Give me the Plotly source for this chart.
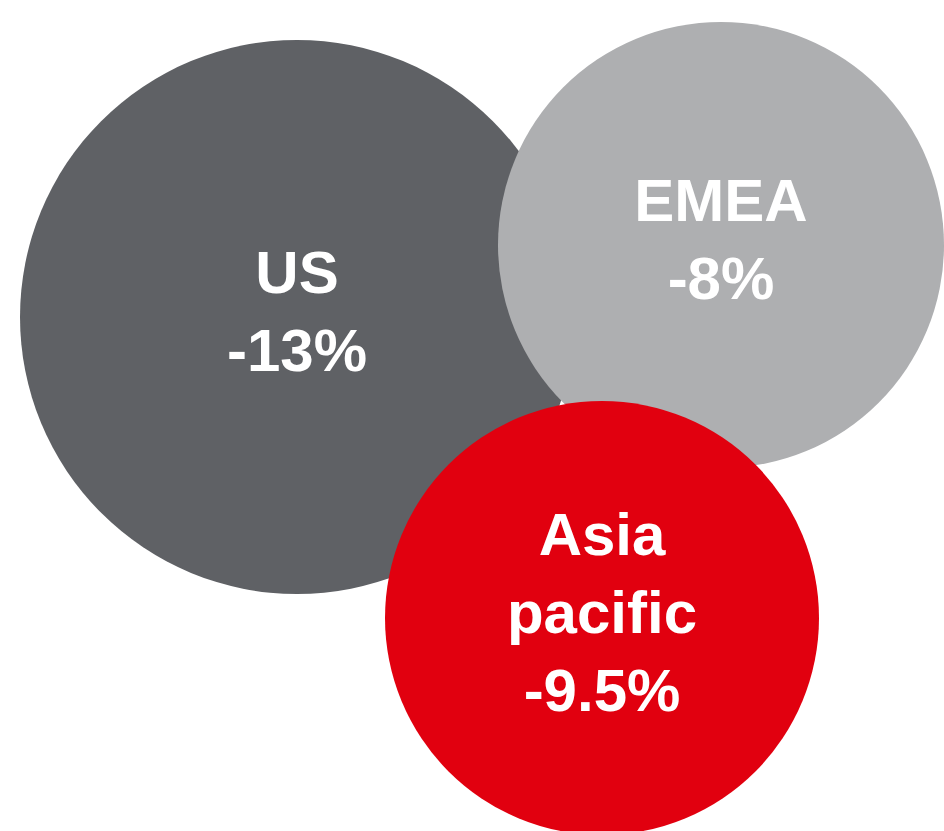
import plotly.graph_objects as go

# regional change, one bubble per region
regions = ["US", "EMEA", "Asia pacific"]
changes = [-13, -8, -9.5]
bubble_x = [297, 721, 602]
bubble_y = [317, 245, 618]
bubble_d = [554, 446, 434]
colors = ["#5f6165", "#aeafb1", "#e1000f"]

def fmt(v):
    return f"{v:g}%"

labels = ["<b>" + r.replace(" ", "<br>") + "<br>" + fmt(c) + "</b>" for r, c in zip(regions, changes)]

fig = go.Figure()
fig.add_trace(go.Scatter(
    x=bubble_x, y=bubble_y,
    mode="markers+text",
    text=labels,
    textposition="middle center",
    textfont=dict(family="Liberation Sans, Arial, sans-serif", size=60, color="white"),
    marker=dict(size=bubble_d, color=colors, opacity=1, line=dict(width=0)),
    hoverinfo="skip",
    showlegend=False,
))

fig.update_xaxes(range=[0, 944], visible=False, fixedrange=True)
fig.update_yaxes(range=[831, 0], visible=False, fixedrange=True)
fig.update_layout(
    width=944, height=831,
    margin=dict(l=0, r=0, t=0, b=0),
    plot_bgcolor="white", paper_bgcolor="white",
)

# drop the default page margin so the chart sits at the window corner
fig.write_html(
    "out.html",
    config={"displayModeBar": False, "staticPlot": True},
    post_script="document.body.style.margin='0';document.body.style.overflow='hidden';",
)
